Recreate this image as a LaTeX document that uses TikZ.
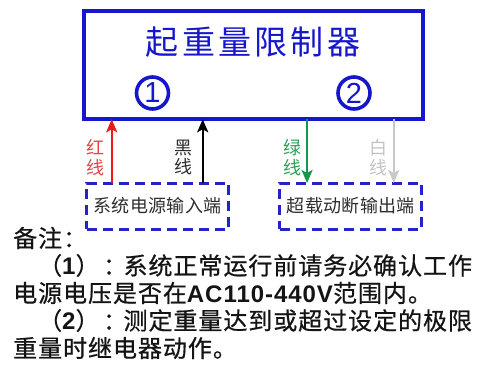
\documentclass[tikz,border=0pt]{standalone}
\usepackage{fontspec}
\usetikzlibrary{arrows.meta}
\newfontfamily\cjk{Noto Sans CJK SC}
\newfontfamily\titlefont{Noto Sans CJK SC}[LetterSpace=10]
\newfontfamily\boxfont{Noto Sans CJK SC}[LetterSpace=2]
\newfontfamily\notefont{Noto Sans CJK SC}[LetterSpace=4,FakeBold=0.6]
\newfontfamily\lat{Liberation Sans}
\newfontfamily\latsp{Liberation Sans}[LetterSpace=4]
\definecolor{myblue}{RGB}{22,22,205}
\definecolor{boxblue}{RGB}{35,35,200}
\definecolor{arrred}{RGB}{235,25,25}
\definecolor{labred}{RGB}{228,70,70}
\definecolor{arrgreen}{RGB}{25,150,75}
\definecolor{labgreen}{RGB}{45,160,85}
\definecolor{arrgray}{RGB}{200,200,200}
\definecolor{labgray}{RGB}{195,195,195}
\definecolor{darktext}{RGB}{45,45,45}
\definecolor{notetext}{RGB}{20,20,20}
\tikzset{
  mainbox/.style={draw=myblue, line width=3.6pt, minimum width=339pt, minimum height=108pt, inner sep=0, outer sep=0},
  dbox/.style={draw=boxblue, line width=3pt, dash pattern=on 10pt off 6pt, minimum width=142pt, minimum height=46pt, inner sep=0, outer sep=0, text=darktext, font=\boxfont\fontsize{18}{18}\selectfont},
  circ/.style={circle, draw=myblue, line width=3.6pt, minimum size=32pt, inner sep=0, text=myblue, font=\lat\fontsize{29}{29}\selectfont},
  lab/.style={font=\cjk\fontsize{18}{19.5}\selectfont, align=center, inner sep=0},
  arr/.style={line width=2.4pt, -{Stealth[length=13pt, width=11pt, inset=3pt]}},
  note/.style={anchor=west, inner sep=0, text=notetext, font=\notefont\fontsize{24}{24}\selectfont},
}
\begin{document}
\begin{tikzpicture}[x=1pt,y=-1pt]
\useasboundingbox (0,0) rectangle (494,365);
\node[mainbox] (main) at (253.75,65.25) {};
\node[inner sep=0, text=myblue, font=\titlefont\fontsize{33}{33}\selectfont] (title) at (253,42) {起重量限制器};
\node[circ] (c1) at (152.5,93) {1};
\node[circ] (c2) at (354,93) {2};
\node[dbox] (L) at (157.5,206) {系统电源输入端};
\node[dbox] (R) at (350.75,206) {超载动断输出端};
\draw[arr, arrred] ([xshift=25.2pt]L.north west) -- ([xshift=25.2pt]L.north west |- main.south);
\draw[arr, black] ([xshift=116.2pt]L.north west) -- ([xshift=116.2pt]L.north west |- main.south);
\draw[arr, arrgreen] ([xshift=27.3pt]R.north west |- main.south) -- ([xshift=27.3pt]R.north west);
\draw[arr, arrgray] ([xshift=114pt]R.north west |- main.south) -- ([xshift=114pt]R.north west);
\node[lab, text=labred] (t1) at (95.5,157.5) {红\\线};
\node[lab, text=darktext] (t2) at (183.5,157.5) {黑\\线};
\node[lab, text=labgreen] (t3) at (292,157.5) {绿\\线};
\node[lab, text=labgray] (t4) at (378,157.5) {白\\线};
\node[note] (n0) at (13,238) {备注：};
\node[note] (n1) at (38,265.5) {（{\latsp\bfseries 1}）\kern3.5pt：\kern-3.5pt系统正常运行前请务必确认工作};
\node[note] (n2) at (13,293) {电源电压是否在{\latsp\bfseries AC110-440V}范围内。};
\node[note] (n3) at (38,320.5) {（{\latsp\bfseries 2}）\kern3.5pt：\kern-3.5pt测定重量达到或超过设定的极限};
\node[note] (n4) at (13,348) {重量时继电器动作。};
\end{tikzpicture}
\end{document}
